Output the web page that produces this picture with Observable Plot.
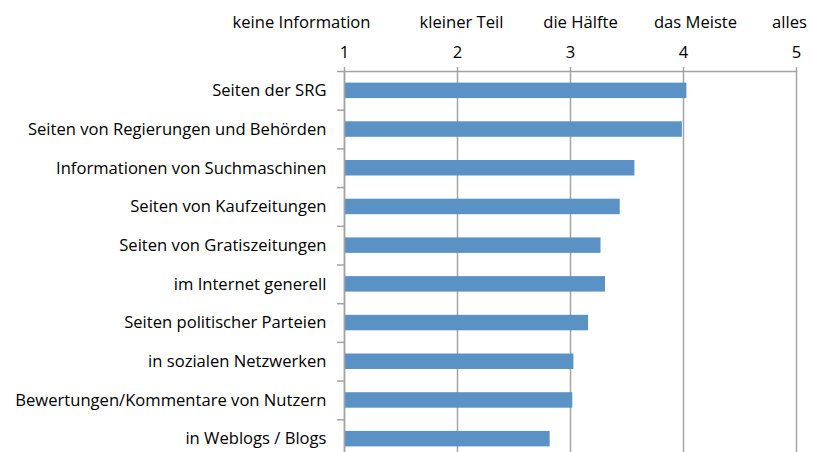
<!DOCTYPE html>
<html>
<head>
<meta charset="utf-8">
<script src="https://cdn.jsdelivr.net/npm/d3@7"></script>
<script src="https://cdn.jsdelivr.net/npm/@observablehq/plot@0.6"></script>
<style>
  html, body { margin: 0; padding: 0; background: #fff; overflow: hidden; }
  #chart svg { display: block; }
</style>
</head>
<body>
<div id="chart"></div>
<script>
const categories = [
  "Seiten der SRG",
  "Seiten von Regierungen und Behörden",
  "Informationen von Suchmaschinen",
  "Seiten von Kaufzeitungen",
  "Seiten von Gratiszeitungen",
  "im Internet generell",
  "Seiten politischer Parteien",
  "in sozialen Netzwerken",
  "Bewertungen/Kommentare von Nutzern",
  "in Weblogs / Blogs"
];
const values = [4.03, 3.99, 3.57, 3.44, 3.27, 3.31, 3.16, 3.03, 3.02, 2.82];
const xTicks = [1, 2, 3, 4, 5];
const scaleLabels = ["keine Information", "kleiner Teil", "die Hälfte", "das Meiste", "alles"];
const scaleLabelShift = [-43, 4, 10, 12, -7]; // px offsets of the verbal labels

const data = categories.map((c, i) => ({cat: c, i, value: values[i]}));
const font = "'Open Sans', Lato, sans-serif";
const fs = 16.6;
const grid = "#a3a3a3";
const baseline = xTicks[0];

const marks = [
  Plot.ruleX(xTicks, {x: d => d, stroke: grid, strokeWidth: 1.5}),
  Plot.ruleY([-0.5], {y: d => d, x1: () => xTicks[0], x2: () => xTicks[xTicks.length - 1], stroke: grid, strokeWidth: 1.5}),
  Plot.axisX(xTicks, {anchor: "top", tickSize: 5, stroke: grid, strokeWidth: 1.5, tickFormat: () => "", label: null}),
  Plot.text(xTicks, {x: d => d, y: () => -0.5, text: d => String(d), dy: -19, lineAnchor: "middle", fontSize: fs, fill: "#000"}),
  ...scaleLabels.map((s, k) =>
    Plot.text([s], {x: () => xTicks[k], y: () => -0.5, text: d => d, dx: scaleLabelShift[k], dy: -49, lineAnchor: "middle", fontSize: fs, fill: "#000"})
  ),
  Plot.rectX(data, {x1: () => baseline, x2: "value", y1: d => d.i - 0.2, y2: d => d.i + 0.2, fill: "#5b92c6"}),
  Plot.ruleX([baseline], {x: d => d, stroke: grid, strokeWidth: 1.5}),
  Plot.axisY(d3.range(categories.length + 1).map(i => i - 0.5), {anchor: "left", tickSize: 7, stroke: grid, strokeWidth: 1.5, tickFormat: () => "", label: null}),
  Plot.axisY(d3.range(categories.length), {anchor: "left", tickSize: 0, tickPadding: 18, tickFormat: i => categories[i], fontSize: fs, fill: "#000", label: null})
];

const chart = Plot.plot({
  width: 814,
  height: 458,
  marginTop: 71,
  marginLeft: 344,
  marginRight: 18,
  marginBottom: 0,
  style: {fontFamily: font, fontSize: fs + "px", color: "#000", background: "#fff"},
  x: {domain: [1, 5], axis: null},
  y: {domain: [-0.5, categories.length - 0.5], reverse: true, axis: null},
  marks
});
document.getElementById("chart").appendChild(chart);
</script>
</body>
</html>
